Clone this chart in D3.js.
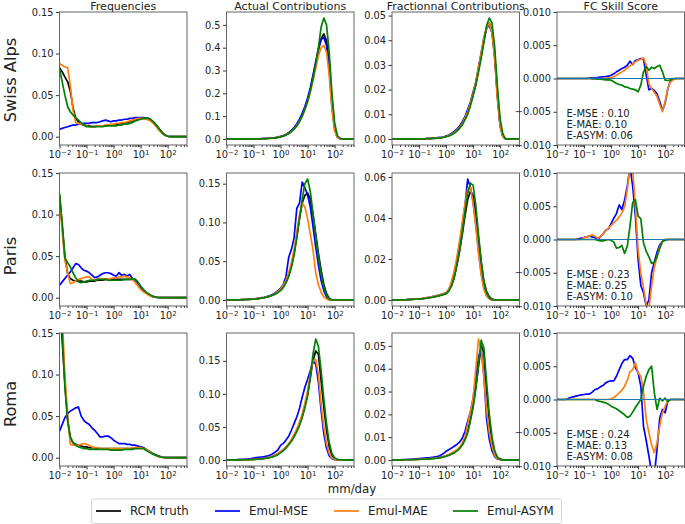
<!DOCTYPE html>
<html>
<head>
<meta charset="utf-8">
<script src="https://cdn.jsdelivr.net/npm/d3@7"></script>
<style>
  html, body { margin: 0; padding: 0; background: #fff; }
  svg { display: block; font-family: "DejaVu Sans", sans-serif; }
</style>
</head>
<body>
<div id="chart"></div>
<script>
// precipitation bins, mm/day (log spaced, 10 per decade)
const bins = [
  0.01, 0.0126, 0.0158, 0.02, 0.0251, 0.0316, 0.0398, 0.0501, 0.0631, 0.0794,
  0.1, 0.126, 0.158, 0.2, 0.251, 0.316, 0.398, 0.501, 0.631, 0.794,
  1, 1.26, 1.58, 2, 2.51, 3.16, 3.98, 5.01, 6.31, 7.94,
  10, 12.6, 15.8, 20, 25.1, 31.6, 39.8, 50.1, 63.1, 79.4,
  100, 126, 158, 200, 251, 316, 398, 501
];

// ---- Swiss Alps ----
const alpsFreqRCM = [
  0.083,0.078,0.072,0.066,0.055,0.035,0.022,0.018,0.015,0.014,
  0.013,0.013,0.012,0.012,0.013,0.013,0.013,0.013,0.014,0.014,
  0.014,0.015,0.015,0.016,0.016,0.017,0.018,0.019,0.020,0.021,
  0.022,0.022,0.022,0.022,0.020,0.017,0.013,0.009,0.005,0.002,
  0.0005,0,0,0,0,0,0,0];
const alpsFreqMSE = [
  0.009,0.010,0.011,0.012,0.013,0.014,0.014,0.015,0.015,0.016,
  0.016,0.016,0.017,0.017,0.017,0.018,0.019,0.020,0.019,0.018,
  0.019,0.019,0.020,0.020,0.021,0.021,0.022,0.022,0.023,0.023,
  0.023,0.023,0.022,0.021,0.019,0.016,0.012,0.008,0.004,0.002,
  0.0005,0,0,0,0,0,0,0];
const alpsFreqMAE = [
  0.088,0.086,0.084,0.083,0.062,0.032,0.017,0.016,0.015,0.014,
  0.013,0.012,0.012,0.012,0.013,0.013,0.013,0.014,0.014,0.015,
  0.015,0.016,0.016,0.017,0.017,0.018,0.019,0.020,0.021,0.022,
  0.022,0.022,0.021,0.020,0.018,0.015,0.011,0.007,0.004,0.002,
  0.0005,0,0,0,0,0,0,0];
const alpsFreqASYM = [
  0.082,0.066,0.050,0.036,0.030,0.026,0.023,0.020,0.017,0.014,
  0.012,0.012,0.012,0.012,0.012,0.012,0.012,0.013,0.013,0.013,
  0.013,0.013,0.014,0.014,0.015,0.015,0.016,0.017,0.019,0.020,
  0.021,0.022,0.022,0.022,0.020,0.017,0.013,0.009,0.005,0.002,
  0.0005,0,0,0,0,0,0,0];

const alpsActRCM = [
  0,0,0,0,0,0,0,0,0,0,
  0.0005,0.0006,0.0008,0.001,0.0015,0.002,0.003,0.004,0.005,0.007,
  0.010,0.013,0.018,0.025,0.034,0.045,0.060,0.080,0.105,0.135,
  0.170,0.215,0.270,0.330,0.390,0.440,0.460,0.430,0.330,0.170,
  0.050,0.010,0.002,0,0,0,0,0];
const alpsActMSE = [
  0,0,0,0,0,0,0,0,0,0,
  0.0006,0.0008,0.001,0.0013,0.0018,0.0025,0.0035,0.0045,0.006,0.008,
  0.011,0.015,0.020,0.028,0.038,0.050,0.066,0.087,0.112,0.142,
  0.180,0.225,0.280,0.340,0.395,0.435,0.445,0.410,0.300,0.140,
  0.040,0.008,0.001,0,0,0,0,0];
const alpsActMAE = [
  0,0,0,0,0,0,0,0,0,0,
  0.0005,0.0006,0.0008,0.001,0.0015,0.002,0.003,0.004,0.005,0.007,
  0.010,0.013,0.018,0.025,0.033,0.044,0.058,0.077,0.100,0.128,
  0.162,0.205,0.255,0.310,0.365,0.400,0.410,0.380,0.280,0.130,
  0.035,0.007,0.001,0,0,0,0,0];
const alpsActASYM = [
  0,0,0,0,0,0,0,0,0,0,
  0.0004,0.0005,0.0007,0.001,0.0014,0.0019,0.0027,0.0037,0.005,0.0065,
  0.009,0.012,0.017,0.023,0.032,0.043,0.057,0.076,0.100,0.130,
  0.165,0.210,0.265,0.330,0.400,0.490,0.530,0.500,0.380,0.200,
  0.070,0.015,0.003,0,0,0,0,0];

const alpsFracRCM = [
  0,0,0,0,0,0,0,0,0,0,
  0,0,0,0.0001,0.0001,0.0002,0.0003,0.0004,0.0005,0.0007,
  0.001,0.0013,0.0018,0.0025,0.0034,0.0045,0.006,0.008,0.0105,0.014,
  0.018,0.022,0.028,0.034,0.040,0.045,0.047,0.044,0.034,0.018,
  0.006,0.001,0,0,0,0,0,0];
const alpsFracMSE = [
  0,0,0,0,0,0,0,0,0,0,
  0,0,0,0.0001,0.0002,0.0003,0.0004,0.0005,0.0006,0.0008,
  0.0012,0.0016,0.0022,0.003,0.004,0.0052,0.007,0.009,0.012,0.015,
  0.019,0.023,0.029,0.035,0.041,0.045,0.046,0.043,0.033,0.017,
  0.005,0.001,0,0,0,0,0,0];
const alpsFracMAE = [
  0,0,0,0,0,0,0,0,0,0,
  0,0,0,0.0001,0.0001,0.0002,0.0003,0.0004,0.0005,0.0007,
  0.001,0.0014,0.0019,0.0026,0.0035,0.0047,0.0063,0.0085,0.011,0.0145,
  0.0185,0.023,0.029,0.035,0.041,0.045,0.047,0.043,0.032,0.016,
  0.005,0.001,0,0,0,0,0,0];
const alpsFracASYM = [
  0,0,0,0,0,0,0,0,0,0,
  0,0,0,0.0001,0.0001,0.0002,0.0002,0.0003,0.0004,0.0006,
  0.0009,0.0012,0.0017,0.0023,0.0032,0.0043,0.0058,0.0078,0.010,0.0135,
  0.0175,0.022,0.027,0.033,0.039,0.046,0.049,0.047,0.037,0.021,
  0.008,0.002,0,0,0,0,0,0];

const alpsSkillMSE = [
  0,0,0,0,0,0,0,0,0,0,
  0,0,0.00005,0.0001,0.0001,0.00015,0.0002,0.00025,0.0003,0.00035,
  0.0005,0.0007,0.001,0.00125,0.0015,0.0017,0.002,0.0026,0.0021,0.0027,
  0.0028,0.003,0.0029,0.0005,-0.0017,-0.0015,-0.0018,-0.0023,-0.0035,-0.0048,
  -0.0037,-0.0015,-0.0003,-0.0001,0,0,0,0];
const alpsSkillMAE = [
  0,0,0,0,0,0,0,0,0,0,
  0,0,0,0,0,0,0,0,0.00005,0.0001,
  0.00015,0.0003,0.0005,0.00075,0.001,0.00125,0.0016,0.0019,0.0022,0.0025,
  0.00275,0.0029,0.0031,0.002,-0.0008,-0.0015,-0.0021,-0.0027,-0.0039,-0.005,
  -0.0035,-0.0015,-0.0005,-0.0002,0,0,0,0];
const alpsSkillASYM = [
  0,0,0,0,0,0,0,0,0,0,
  0,0,0,-0.00005,-0.00005,-0.0001,-0.0001,-0.00015,-0.0002,-0.0002,
  -0.00025,-0.0005,-0.00075,-0.0009,-0.001,-0.00125,-0.0013,-0.0015,-0.0016,-0.0017,
  -0.002,-0.001,0.001,0.0018,0.00125,0.0017,0.0015,0.0018,0.002,0.001,
  -0.00025,-0.0003,-0.0002,0,0,0,0,0];

// ---- Paris ----
const parisFreqRCM = [
  0.124,0.086,0.050,0.029,0.023,0.021,0.020,0.020,0.020,0.019,
  0.019,0.020,0.020,0.020,0.021,0.021,0.021,0.022,0.022,0.022,
  0.022,0.022,0.022,0.022,0.022,0.022,0.022,0.022,0.022,0.018,
  0.013,0.009,0.006,0.004,0.002,0.001,0.0005,0.0002,0,0,
  0,0,0,0,0,0,0,0];
const parisFreqMSE = [
  0.015,0.019,0.023,0.027,0.031,0.036,0.041,0.040,0.036,0.033,
  0.032,0.030,0.027,0.024,0.025,0.027,0.029,0.030,0.030,0.029,
  0.027,0.026,0.030,0.027,0.028,0.026,0.028,0.023,0.021,0.018,
  0.013,0.009,0.006,0.004,0.002,0.001,0.0004,0,0,0,
  0,0,0,0,0,0,0,0];
const parisFreqMAE = [
  0.120,0.080,0.045,0.030,0.017,0.018,0.020,0.022,0.023,0.024,
  0.025,0.025,0.022,0.021,0.022,0.023,0.022,0.023,0.022,0.023,
  0.024,0.024,0.025,0.025,0.026,0.025,0.024,0.022,0.018,0.014,
  0.010,0.007,0.005,0.003,0.0015,0.0007,0.0002,0,0,0,
  0,0,0,0,0,0,0,0];
const parisFreqASYM = [
  0.125,0.090,0.048,0.042,0.037,0.030,0.024,0.019,0.018,0.019,
  0.020,0.021,0.021,0.021,0.022,0.022,0.022,0.022,0.021,0.021,
  0.021,0.021,0.021,0.021,0.022,0.022,0.022,0.023,0.022,0.019,
  0.014,0.010,0.007,0.0045,0.0025,0.0012,0.0005,0.0001,0,0,
  0,0,0,0,0,0,0,0];

const parisActRCM = [
  0,0,0,0,0,0,0.0005,0.0006,0.0008,0.0009,
  0.001,0.0015,0.002,0.0025,0.003,0.004,0.005,0.006,0.008,0.010,
  0.013,0.017,0.023,0.032,0.044,0.060,0.082,0.105,0.125,0.135,
  0.138,0.130,0.110,0.085,0.060,0.038,0.020,0.008,0.002,0,
  0,0,0,0,0,0,0,0];
const parisActMSE = [
  0,0,0,0,0,0,0.0005,0.0006,0.0008,0.001,
  0.0012,0.0017,0.0022,0.003,0.0035,0.0045,0.0055,0.007,0.009,0.012,
  0.015,0.020,0.030,0.055,0.065,0.080,0.118,0.125,0.152,0.145,
  0.135,0.120,0.095,0.068,0.045,0.025,0.012,0.004,0.001,0,
  0,0,0,0,0,0,0,0];
const parisActMAE = [
  0,0,0,0,0,0,0.0005,0.0006,0.0008,0.0009,
  0.001,0.0015,0.002,0.0025,0.003,0.004,0.005,0.006,0.008,0.011,
  0.014,0.019,0.025,0.035,0.048,0.065,0.088,0.110,0.125,0.120,
  0.105,0.085,0.065,0.035,0.020,0.010,0.004,0.001,0,0,
  0,0,0,0,0,0,0,0];
const parisActASYM = [
  0,0,0,0,0,0,0.0005,0.0006,0.0007,0.0008,
  0.001,0.0013,0.0018,0.0023,0.003,0.0038,0.0047,0.006,0.0075,0.0095,
  0.012,0.016,0.022,0.030,0.042,0.058,0.080,0.105,0.130,0.150,
  0.156,0.140,0.112,0.082,0.056,0.034,0.017,0.006,0.001,0,
  0,0,0,0,0,0,0,0];

const parisFracRCM = [
  0,0,0,0,0,0.0001,0.0002,0.0003,0.0004,0.0004,
  0.0005,0.0006,0.0008,0.001,0.0012,0.0014,0.0017,0.002,0.0023,0.0027,
  0.0032,0.0045,0.007,0.011,0.017,0.024,0.032,0.041,0.049,0.053,
  0.051,0.042,0.030,0.018,0.009,0.004,0.0015,0.0004,0,0,
  0,0,0,0,0,0,0,0];
const parisFracMSE = [
  0,0,0,0,0,0.0001,0.0002,0.0003,0.0004,0.0005,
  0.0006,0.0007,0.0009,0.0011,0.0013,0.0016,0.0019,0.0022,0.0026,0.003,
  0.0036,0.005,0.008,0.013,0.019,0.027,0.036,0.046,0.059,0.055,
  0.048,0.037,0.024,0.013,0.006,0.002,0.0007,0,0,0,
  0,0,0,0,0,0,0,0];
const parisFracMAE = [
  0,0,0,0,0,0.0001,0.0002,0.0003,0.0004,0.0005,
  0.0006,0.0007,0.0009,0.0011,0.0013,0.0016,0.0019,0.0022,0.0026,0.003,
  0.0035,0.005,0.009,0.014,0.021,0.029,0.038,0.047,0.054,0.055,
  0.047,0.036,0.023,0.012,0.005,0.002,0.0005,0,0,0,
  0,0,0,0,0,0,0,0];
const parisFracASYM = [
  0,0,0,0,0,0.0001,0.0002,0.0003,0.0003,0.0004,
  0.0005,0.0006,0.0007,0.0009,0.0011,0.0013,0.0016,0.0019,0.0022,0.0026,
  0.003,0.0043,0.0068,0.011,0.017,0.024,0.033,0.043,0.052,0.057,
  0.056,0.046,0.032,0.019,0.009,0.0035,0.001,0.0003,0,0,
  0,0,0,0,0,0,0,0];

const parisSkillMSE = [
  0,0,0,0,0,0,0,0,0.0001,0.0002,
  0.0003,0.0004,0.0005,0.0004,0.0003,0,0.0004,0.0008,0.0014,0.0016,
  0.0024,0.0032,0.0039,0.0052,0.0045,0.0059,0.0080,0.0110,0.0080,0.0035,
  -0.0030,-0.0069,-0.0080,-0.0100,-0.0091,-0.0050,-0.0034,-0.0019,-0.0008,-0.0003,
  -0.0001,0,0,0,0,0,0,0];
const parisSkillMAE = [
  0,0,0,0,0,0,0,0,0,0,
  0.0003,0.0004,0.0005,0.0007,0.0005,0.0002,0.0004,0.0008,0.0013,0.0017,
  0.0021,0.0025,0.0029,0.0034,0.0040,0.0049,0.0075,0.0110,0.0105,0.0050,
  -0.0015,-0.0051,-0.0072,-0.0098,-0.0105,-0.0070,-0.0042,-0.0026,-0.0011,-0.0003,
  0,0,0,0,0,0,0,0];
const parisSkillASYM = [
  0,0,0,0,0,0,0,0,0,0,
  0,0,0,0,0,-0.0001,-0.0002,-0.0002,-0.0001,0,
  -0.0001,-0.0004,-0.0013,-0.0012,-0.0009,-0.0021,-0.0010,0.0020,0.0056,0.0060,
  0.0035,0.0031,-0.0005,-0.0018,-0.0026,-0.0036,-0.0034,-0.0026,-0.0013,-0.0003,
  0,0,0,0,0,0,0,0];

// ---- Roma ----
const romaFreqRCM = [
  0.200,0.140,0.090,0.045,0.024,0.018,0.016,0.015,0.014,0.013,
  0.013,0.012,0.012,0.012,0.011,0.011,0.011,0.011,0.011,0.011,
  0.011,0.011,0.011,0.011,0.011,0.011,0.011,0.011,0.012,0.012,
  0.012,0.012,0.010,0.008,0.006,0.004,0.0025,0.0015,0.0007,0.0002,
  0,0,0,0,0,0,0,0];
const romaFreqMSE = [
  0.032,0.040,0.048,0.053,0.056,0.058,0.060,0.061,0.050,0.045,
  0.042,0.040,0.036,0.033,0.029,0.025,0.025,0.026,0.026,0.024,
  0.021,0.019,0.017,0.017,0.017,0.016,0.016,0.015,0.015,0.014,
  0.013,0.012,0.010,0.008,0.006,0.004,0.003,0.0015,0.0005,0.0001,
  0,0,0,0,0,0,0,0];
const romaFreqMAE = [
  0.220,0.170,0.100,0.050,0.016,0.015,0.015,0.015,0.016,0.017,
  0.016,0.015,0.013,0.012,0.012,0.011,0.011,0.011,0.011,0.011,
  0.011,0.011,0.011,0.011,0.011,0.011,0.011,0.012,0.012,0.012,
  0.012,0.011,0.010,0.008,0.006,0.004,0.002,0.001,0.0004,0,
  0,0,0,0,0,0,0,0];
const romaFreqASYM = [
  0.210,0.150,0.085,0.045,0.025,0.018,0.015,0.013,0.012,0.011,
  0.011,0.010,0.010,0.010,0.010,0.010,0.010,0.010,0.010,0.009,
  0.009,0.009,0.009,0.009,0.010,0.010,0.010,0.010,0.011,0.011,
  0.011,0.011,0.009,0.007,0.005,0.004,0.0025,0.0012,0.0005,0.0001,
  0,0,0,0,0,0,0,0];

const romaActRCM = [
  0,0,0,0,0,0.0002,0.0003,0.0004,0.0005,0.0007,
  0.001,0.0012,0.0015,0.002,0.0025,0.003,0.004,0.005,0.007,0.009,
  0.012,0.015,0.019,0.024,0.030,0.037,0.045,0.055,0.067,0.082,
  0.100,0.125,0.150,0.165,0.160,0.120,0.080,0.045,0.020,0.007,
  0.002,0.0005,0,0,0,0,0,0];
const romaActMSE = [
  0,0,0,0.0003,0.0005,0.0008,0.001,0.0013,0.0017,0.0022,
  0.003,0.0035,0.004,0.0045,0.005,0.006,0.007,0.009,0.012,0.015,
  0.022,0.025,0.030,0.036,0.045,0.055,0.065,0.078,0.095,0.110,
  0.122,0.135,0.150,0.145,0.118,0.075,0.040,0.018,0.006,0.002,
  0.0005,0,0,0,0,0,0,0];
const romaActMAE = [
  0,0,0,0,0,0.0002,0.0003,0.0004,0.0005,0.0007,
  0.001,0.0012,0.0015,0.002,0.0025,0.0032,0.0042,0.0055,0.0075,0.0098,
  0.013,0.016,0.020,0.025,0.031,0.038,0.047,0.057,0.070,0.086,
  0.105,0.130,0.150,0.152,0.130,0.085,0.050,0.025,0.010,0.003,
  0.001,0,0,0,0,0,0,0];
const romaActASYM = [
  0,0,0,0,0,0.0002,0.0003,0.0003,0.0004,0.0006,
  0.0008,0.001,0.0013,0.0017,0.0022,0.0028,0.0036,0.0046,0.006,0.008,
  0.011,0.014,0.018,0.023,0.028,0.035,0.043,0.052,0.064,0.079,
  0.097,0.125,0.160,0.183,0.172,0.135,0.092,0.055,0.026,0.010,
  0.003,0.001,0,0,0,0,0,0];

const romaFracRCM = [
  0,0,0,0,0,0.0001,0.0001,0.0001,0.0002,0.0002,
  0.0003,0.0003,0.0004,0.0005,0.0006,0.0007,0.0008,0.0009,0.0011,0.0014,
  0.0018,0.0022,0.0027,0.0034,0.0042,0.0052,0.0068,0.009,0.0125,0.018,
  0.024,0.032,0.041,0.050,0.047,0.030,0.017,0.008,0.003,0.001,
  0.0004,0.0001,0,0,0,0,0,0];
const romaFracMSE = [
  0,0,0.0001,0.0001,0.0002,0.0002,0.0003,0.0003,0.0004,0.0005,
  0.0006,0.0007,0.0008,0.0009,0.001,0.0012,0.0014,0.0016,0.002,0.0028,
  0.0038,0.0045,0.0052,0.006,0.0068,0.0078,0.0095,0.0125,0.017,0.021,
  0.027,0.036,0.045,0.049,0.037,0.018,0.009,0.004,0.0015,0.0004,
  0.0001,0,0,0,0,0,0,0];
const romaFracMAE = [
  0,0,0,0,0,0.0001,0.0001,0.0001,0.0002,0.0002,
  0.0003,0.0003,0.0004,0.0005,0.0006,0.0007,0.0008,0.0009,0.0011,0.0015,
  0.0019,0.0024,0.003,0.0037,0.0045,0.0055,0.0075,0.010,0.0156,0.021,
  0.027,0.040,0.053,0.048,0.036,0.022,0.012,0.006,0.002,0.0006,
  0.0001,0,0,0,0,0,0,0];
const romaFracASYM = [
  0,0,0,0,0,0.0001,0.0001,0.0001,0.0001,0.0002,
  0.0002,0.0003,0.0003,0.0004,0.0005,0.0006,0.0007,0.0008,0.001,0.0013,
  0.0016,0.002,0.0025,0.0031,0.0039,0.005,0.0066,0.0088,0.012,0.017,
  0.023,0.031,0.042,0.0525,0.049,0.034,0.020,0.010,0.004,0.0012,
  0.0003,0,0,0,0,0,0,0];

const romaSkillMSE = [
  0,0,0,0,0.0001,0.0003,0.0004,0.0005,0.0006,0.0007,
  0.00075,0.0008,0.0008,0.0011,0.0015,0.0016,0.0019,0.0021,0.0025,0.0027,
  0.0028,0.0028,0.0035,0.0045,0.0054,0.0060,0.0060,0.0066,0.0062,0.0048,
  0.0040,0.0020,-0.0040,-0.0062,-0.0085,-0.0110,-0.0115,-0.0075,-0.0028,-0.0015,
  -0.0020,-0.0002,0,0,0,0,0,0];
const romaSkillMAE = [
  0,0,0,0,0,0,0,0,0,0,
  0,0,0,0,0,0,0,0,0,0,
  0.0001,0.0003,0.0006,0.0010,0.0014,0.0020,0.0029,0.0042,0.0045,0.0055,
  0.0040,0.0035,0.0012,-0.0030,-0.0050,-0.0068,-0.0080,-0.0065,-0.0040,-0.0020,
  -0.0010,-0.0002,0,0,0,0,0,0];
const romaSkillASYM = [
  0,0,0,0,0,0,0,0,0,0,
  0,0,0,0,0,-0.0002,-0.0003,-0.0004,-0.0005,-0.0007,
  -0.0010,-0.0012,-0.0014,-0.0017,-0.0020,-0.0023,-0.0027,-0.0025,-0.0019,-0.0012,
  -0.0006,0,0.0020,0.0035,0.0045,0.0050,0.0010,-0.0015,0.0002,-0.0002,
  0.0002,-0.0003,0,0,0,0,0,0];

// labels and ticks
const regions = ["Swiss Alps", "Paris", "Roma"];
const titles = ["Frequencies", "Actual Contributions", "Fractionnal Contributions", "FC Skill Score"];
const seriesNames = ["RCM truth", "Emul-MSE", "Emul-MAE", "Emul-ASYM"];
const scoreLines = [
  ["E-MSE : 0.10", "E-MAE: 0.10", "E-ASYM: 0.06"],
  ["E-MSE : 0.23", "E-MAE: 0.25", "E-ASYM: 0.10"],
  ["E-MSE : 0.24", "E-MAE: 0.13", "E-ASYM: 0.08"]
];
const xMajorTicks = [0.01, 0.1, 1, 10, 100];
const freqTicks = [0, 0.05, 0.10, 0.15];
const skillTicks = [-0.010, -0.005, 0, 0.005, 0.010];
const alpsActTicks = [0, 0.1, 0.2, 0.3, 0.4, 0.5];
const parisActTicks = [0, 0.05, 0.10, 0.15];
const romaActTicks = [0, 0.05, 0.10, 0.15];
const alpsFracTicks = [0, 0.01, 0.02, 0.03, 0.04, 0.05];
const parisFracTicks = [0, 0.02, 0.04, 0.06];
const romaFracTicks = [0, 0.01, 0.02, 0.03, 0.04, 0.05];

// panel table built from the arrays above (null = no RCM curve in skill panels)
const grid = [
  [[alpsFreqRCM, alpsFreqMSE, alpsFreqMAE, alpsFreqASYM],
   [alpsActRCM, alpsActMSE, alpsActMAE, alpsActASYM],
   [alpsFracRCM, alpsFracMSE, alpsFracMAE, alpsFracASYM],
   [null, alpsSkillMSE, alpsSkillMAE, alpsSkillASYM]],
  [[parisFreqRCM, parisFreqMSE, parisFreqMAE, parisFreqASYM],
   [parisActRCM, parisActMSE, parisActMAE, parisActASYM],
   [parisFracRCM, parisFracMSE, parisFracMAE, parisFracASYM],
   [null, parisSkillMSE, parisSkillMAE, parisSkillASYM]],
  [[romaFreqRCM, romaFreqMSE, romaFreqMAE, romaFreqASYM],
   [romaActRCM, romaActMSE, romaActMAE, romaActASYM],
   [romaFracRCM, romaFracMSE, romaFracMAE, romaFracASYM],
   [null, romaSkillMSE, romaSkillMAE, romaSkillASYM]]
];
const yTickGrid = [
  [freqTicks, alpsActTicks, alpsFracTicks, skillTicks],
  [freqTicks, parisActTicks, parisFracTicks, skillTicks],
  [freqTicks, romaActTicks, romaFracTicks, skillTicks]
];

// layout
const width = 685, height = 524;
const colX = [59.5, 226.5, 392, 557];
const rowY = [12, 173, 333];
const panelW = 127.5, panelH = 133;
const colors = ["#000000", "#0000ff", "#ff7f0e", "#008000"];
const labelY = [80, 256, 404];

const svg = d3.select("#chart").append("svg")
  .attr("width", width)
  .attr("height", height);

const x = d3.scaleLog().domain([0.01, 520]).range([0, panelW]);
const minorTicks = x.ticks().filter((d) => !xMajorTicks.includes(d));

grid.forEach((row, r) => {
  row.forEach((series, c) => {
    const g = svg.append("g")
      .attr("transform", `translate(${colX[c]},${rowY[r]})`);

    // y limits: fixed for frequencies and skill, auto (5% margin) otherwise
    let domain;
    if (c === 0) domain = [-0.01, 0.15];
    else if (c === 3) domain = [-0.01, 0.01];
    else {
      const [lo, hi] = d3.extent(series.flat());
      const pad = (hi - lo) * 0.05;
      domain = [lo - pad, hi + pad];
    }
    const y = d3.scaleLinear().domain(domain).range([panelH, 0]);
    const fmt = d3.format(c === 3 ? ".3f" : (c === 1 && r === 0 ? ".1f" : ".2f"));

    const clipId = `clip-${r}-${c}`;
    g.append("clipPath").attr("id", clipId)
      .append("rect").attr("width", panelW).attr("height", panelH);

    const line = d3.line()
      .x((d, i) => x(bins[i]))
      .y((d) => y(d));

    const plot = g.append("g").attr("clip-path", `url(#${clipId})`);
    series.forEach((s, k) => {
      if (!s) return;
      plot.append("path")
        .datum(s)
        .attr("d", line)
        .attr("fill", "none")
        .attr("stroke", colors[k])
        .attr("stroke-width", 1.7)
        .attr("stroke-linejoin", "round");
    });

    if (c === 3) {
      plot.append("line")
        .attr("x1", 0).attr("x2", panelW)
        .attr("y1", y(0)).attr("y2", y(0))
        .attr("stroke", "#1f77b4")
        .attr("stroke-width", 1);

      g.append("g").selectAll("text")
        .data(scoreLines[r])
        .join("text")
        .attr("x", 9.5)
        .attr("y", (d, i) => panelH - 28 + i * 11.2)
        .attr("font-size", 10)
        .attr("fill", "#222")
        .text((d) => d);
    }

    // axes
    g.append("g")
      .attr("color", "#333")
      .call(d3.axisLeft(y).tickValues(yTickGrid[r][c]).tickFormat(fmt).tickSize(3.5).tickPadding(2.5))
      .call((a) => a.select(".domain").remove())
      .call((a) => a.selectAll("text").attr("font-size", 9.8).attr("font-family", "DejaVu Sans").attr("fill", "#222"));

    g.append("g")
      .attr("transform", `translate(0,${panelH})`)
      .attr("color", "#333")
      .call(d3.axisBottom(x).tickValues(minorTicks).tickFormat(() => "").tickSize(2))
      .call((a) => a.select(".domain").remove());

    g.append("g")
      .attr("transform", `translate(0,${panelH})`)
      .attr("color", "#333")
      .call(d3.axisBottom(x).tickValues(xMajorTicks).tickFormat(() => "").tickSize(3.5).tickPadding(2.5))
      .call((a) => a.select(".domain").remove())
      .call((a) => a.selectAll(".tick text")
        .attr("font-size", 9.8)
        .attr("font-family", "DejaVu Sans")
        .attr("fill", "#222")
        .each(function (d) {
          const e = Math.round(Math.log10(d));
          const t = d3.select(this);
          t.append("tspan").text("10");
          t.append("tspan")
            .attr("dy", "-0.45em")
            .attr("font-size", 7)
            .text(e < 0 ? "\u2212" + (-e) : String(e));
        }));

    g.append("rect")
      .attr("width", panelW)
      .attr("height", panelH)
      .attr("fill", "none")
      .attr("stroke", "#555")
      .attr("stroke-width", 0.9);

    if (r === 0) {
      g.append("text")
        .attr("x", panelW / 2)
        .attr("y", -2)
        .attr("text-anchor", "middle")
        .attr("font-size", 11)
        .attr("fill", "#222")
        .text(titles[c]);
    }
  });

  // region label
  svg.append("text")
    .attr("transform", `translate(16,${labelY[r]}) rotate(-90)`)
    .attr("text-anchor", "middle")
    .attr("font-size", 16.2)
    .attr("fill", "#222")
    .text(regions[r]);
});

// x label
svg.append("text")
  .attr("x", 352)
  .attr("y", 493)
  .attr("text-anchor", "middle")
  .attr("font-size", 11.8)
  .attr("fill", "#222")
  .text("mm/day");

// legend
const legend = svg.append("g");
legend.append("rect")
  .attr("x", 91.5).attr("y", 499)
  .attr("width", 470).attr("height", 24.5)
  .attr("rx", 2.5)
  .attr("fill", "#fff")
  .attr("stroke", "#d0d0d0")
  .attr("stroke-width", 0.9);

const item = legend.selectAll("g.item")
  .data(seriesNames)
  .join("g")
  .attr("class", "item")
  .attr("transform", (d, i) => `translate(${96 + i * 119},511)`);
item.append("line")
  .attr("x1", 0).attr("x2", 25)
  .attr("stroke", (d, i) => colors[i])
  .attr("stroke-width", 1.7);
item.append("text")
  .attr("x", 34)
  .attr("y", 4.3)
  .attr("font-size", 11.8)
  .attr("fill", "#222")
  .text((d) => d);
</script>
</body>
</html>
